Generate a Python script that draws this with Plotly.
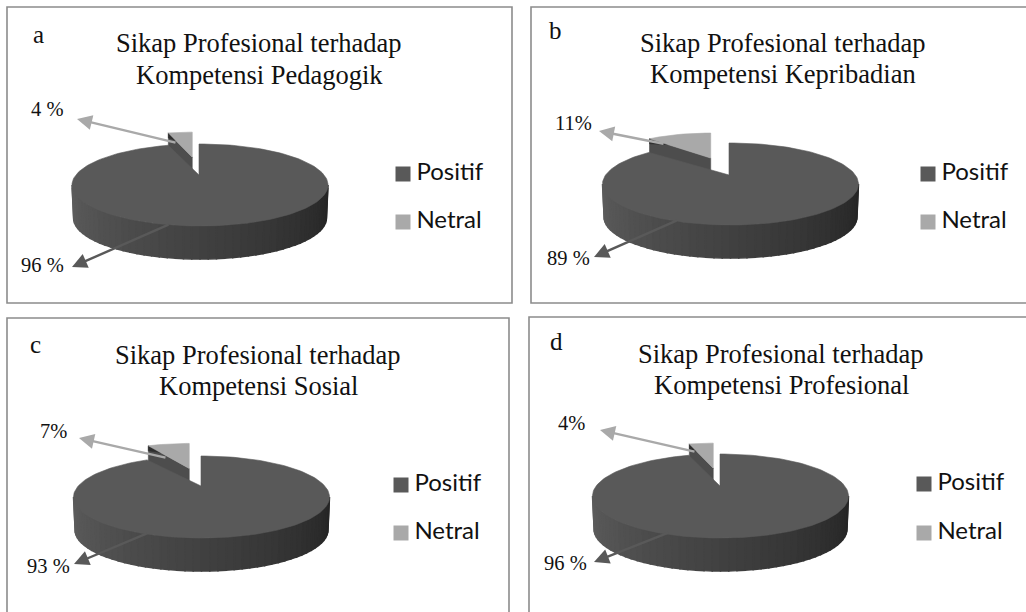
import math
import plotly.graph_objects as go

panel_letters = ["a", "b", "c", "d"]
title_top = ["Sikap Profesional terhadap"] * 4
title_bottom = ["Kompetensi Pedagogik", "Kompetensi Kepribadian", "Kompetensi Sosial", "Kompetensi Profesional"]
categories = ["Positif", "Netral"]
positif_values = [96, 89, 93, 96]
netral_values = [4, 11, 7, 4]
positif_labels = ["96 %", "89 %", "93 %", "96 %"]
netral_labels = ["4 %", "11%", "7%", "4%"]

DARK = "#595959"
LIGHT = "#a9a9a9"
SERIF = "Liberation Serif"
SANS = "Lato"

# page layout of the four panels (pixel axis)
layouts = [
    dict(frame=(7, 7, 512, 303), c=(200, 185), top=144, apex=(199, 175), title_x=259, title_y=(43, 75),
         letter=(38, 34), leg_x=403, leg_y=(174, 222), lab_n=(47, 109), lab_p=(42, 265),
         arr_n=((177, 143), (77, 119)), arr_p=((170, 224), (72, 267))),
    dict(frame=(531, 7, 1032, 303), c=(730.5, 184), top=143, apex=(729, 175), title_x=783, title_y=(43, 74),
         letter=(555, 30), leg_x=928, leg_y=(174, 222), lab_n=(573, 123), lab_p=(568, 258),
         arr_n=((665, 144), (599, 131)), arr_p=((678, 220), (594, 257))),
    dict(frame=(7, 318, 509, 620), c=(201.5, 497), top=456, apex=(201, 486), title_x=258, title_y=(355, 386),
         letter=(35, 344), leg_x=401, leg_y=(485, 533), lab_n=(53, 431), lab_p=(48, 566),
         arr_n=((167, 458), (79, 438)), arr_p=((148, 533), (74, 564))),
    dict(frame=(529, 317, 1032, 620), c=(720.5, 496), top=454, apex=(720, 486), title_x=781, title_y=(354, 385),
         letter=(556, 341), leg_x=924, leg_y=(484, 533), lab_n=(571, 423), lab_p=(565, 563),
         arr_n=((696, 452), (600, 430)), arr_p=((670, 532), (594, 562))),
]

RX = 128
DEPTH = 33
N_RX, N_RY = 96, 25
EXPL_X, EXPL_Y = 54, 18
SIDE = 16

fig = go.Figure()
shapes, annos = [], []


def poly(xs, ys, color, width=0.6):
    fig.add_trace(go.Scatter(x=xs, y=ys, mode="lines", fill="toself", fillcolor=color,
                             line=dict(color=color, width=width), hoverinfo="skip", showlegend=False))


def label(x, y, text, size, font=SERIF):
    annos.append(dict(x=x, y=y, xref="x", yref="y", text=text, showarrow=False, xanchor="center",
                      yanchor="middle", font=dict(family=font, size=size, color="#111111")))


for i, L in enumerate(layouts):
    total = positif_values[i] + netral_values[i]
    theta = 360 * netral_values[i] / total
    cx, cy = L["c"]
    ry = cy - L["top"]
    ax, ay = L["apex"]
    fx0, fy0, fx1, fy1 = L["frame"]
    shapes.append(dict(type="rect", x0=fx0, y0=fy0, x1=fx1, y1=fy1, xref="x", yref="y",
                       line=dict(color="#8c8c8c", width=1.6), fillcolor="white", layer="below"))

    # Netral slice, pulled out of the pie
    phi = math.radians(theta / 2)
    nx, ny = ax - EXPL_X * math.sin(phi), ay - EXPL_Y * math.cos(phi)
    tr = math.radians(theta)
    lx, ly = nx - N_RX * math.sin(tr), ny - N_RY * math.cos(tr)
    mx, my = lx + 0.3 * (nx - lx), ly + 0.3 * (ny - ly)
    poly([lx, nx, nx, lx, lx], [ly, ny, ny + SIDE, ly + SIDE, ly], "#4d4d4d")
    poly([lx, mx, lx, lx], [ly, my, ly + 5, ly], "#2e2e2e")
    steps = [theta * k / 12 for k in range(13)]
    xs = [nx] + [nx - N_RX * math.sin(math.radians(t)) for t in steps] + [nx]
    ys = [ny] + [ny - N_RY * math.cos(math.radians(t)) for t in steps] + [ny]
    poly(xs, ys, LIGHT)

    # Side wall of the Positif slice, shaded in strips (left to right, so each overlaps the last)
    n_strips = 48
    for k in range(n_strips):
        a0 = -90 + 180 * k / n_strips
        a1 = -90 + 180 * (k + 1) / n_strips
        f = (k + 0.5) / n_strips
        g = int(round(94 - 58 * f))
        arc = [a0 + (a1 - a0) * j / 3 for j in range(4)]
        tx = [cx + RX * math.sin(math.radians(a)) for a in arc]
        ty = [cy + ry * math.cos(math.radians(a)) for a in arc]
        bx = [cx + (RX - 1.5) * math.sin(math.radians(a)) for a in arc]
        by = [cy + DEPTH + ry * math.cos(math.radians(a)) for a in arc]
        poly(tx + bx[::-1] + tx[:1], ty + by[::-1] + ty[:1], f"rgb({g},{g},{g})", width=1.5)

    # Top face of the Positif slice, with the notch read from the value
    sweep = 360 - theta
    ts = [sweep * k / 180 for k in range(181)]
    xs = [ax] + [cx + RX * math.sin(math.radians(t)) - (cx - ax) * (1 - min(t, 3) / 3) for t in ts] + [ax]
    ys = [ay] + [cy - ry * math.cos(math.radians(t)) for t in ts] + [ay]
    poly(xs, ys, DARK)

    # Legend
    fig.add_trace(go.Scatter(
        x=[L["leg_x"]] * 2, y=list(L["leg_y"]), mode="markers+text",
        marker=dict(symbol="square", size=15, color=[DARK, LIGHT]),
        text=["\u2009" + c for c in categories], textposition="middle right",
        textfont=dict(family=SANS, size=24, color="#111111"),
        hoverinfo="skip", showlegend=False))

    # Arrows and labels
    for (start, end), col in ((L["arr_n"], LIGHT), (L["arr_p"], DARK)):
        annos.append(dict(x=end[0], y=end[1], ax=start[0], ay=start[1], xref="x", yref="y",
                          axref="x", ayref="y", text="", showarrow=True, arrowhead=2,
                          arrowsize=1.25, arrowwidth=2.4, arrowcolor=col, standoff=0))
    label(*L["lab_n"], netral_labels[i], 20.5)
    label(*L["lab_p"], positif_labels[i], 20.5)
    label(*L["letter"], panel_letters[i], 25)
    label(L["title_x"], L["title_y"][0], title_top[i], 26.5)
    label(L["title_x"], L["title_y"][1], title_bottom[i], 26.5)

fig.update_layout(
    width=1026, height=612, margin=dict(l=0, r=0, t=0, b=0), autosize=False,
    paper_bgcolor="white", plot_bgcolor="white", showlegend=False,
    xaxis=dict(range=[0, 1026], visible=False, fixedrange=True),
    yaxis=dict(range=[612, 0], visible=False, fixedrange=True),
    shapes=shapes, annotations=annos,
)
fig.write_html("out.html", config=dict(displayModeBar=False),
               post_script="document.body.style.margin='0';document.documentElement.style.overflow='hidden';")
